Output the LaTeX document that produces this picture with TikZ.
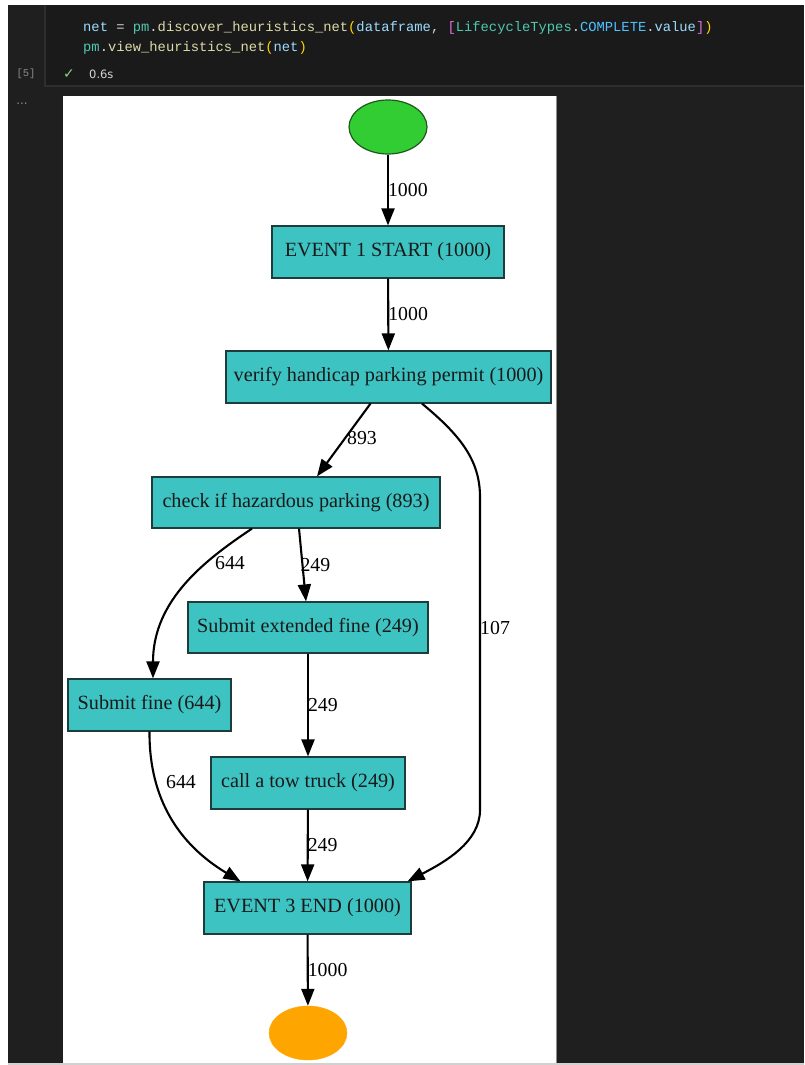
\documentclass[tikz,border=0pt]{standalone}
\usepackage{fontspec}
\setmainfont{Liberation Serif}
\newfontfamily\codefont{Liberation Mono}
\newfontfamily\uifont{DejaVu Sans}
\usetikzlibrary{shapes.geometric,arrows.meta}
\definecolor{bgdark}{HTML}{1F1F1F}
\definecolor{celldark}{HTML}{1A1A1A}
\definecolor{cellline}{HTML}{2E2E2E}
\definecolor{boxfill}{HTML}{3EC3C3}
\definecolor{boxline}{HTML}{1E3C3C}
\definecolor{srcfill}{HTML}{32CD32}
\definecolor{srcline}{HTML}{1E5A1E}
\definecolor{sinkfill}{HTML}{FFA500}
\definecolor{cvar}{HTML}{9CDCFE}
\definecolor{cop}{HTML}{D4D4D4}
\definecolor{ccls}{HTML}{4EC9B0}
\definecolor{cfn}{HTML}{DCDCAA}
\definecolor{cpar}{HTML}{FFD700}
\definecolor{cbr}{HTML}{DA70D6}
\definecolor{cconst}{HTML}{4FC1FF}
\definecolor{uigray}{HTML}{8A8A8A}
\definecolor{okgreen}{HTML}{89D185}
\tikzset{
  act/.style={rectangle, draw=boxline, line width=1.2pt, fill=boxfill, text=black!90,
    minimum height=52pt, inner sep=0pt, font=\fontsize{20.2}{23}\selectfont},
  term/.style={ellipse, minimum width=78pt, minimum height=54pt, inner sep=0pt},
  flow/.style={line width=2.1pt, -{Triangle[length=17pt,width=13pt]}},
  lbl/.style={font=\fontsize{19.8}{22}\selectfont, inner sep=0pt, text=black},
  code/.style={anchor=west, inner sep=0pt, font=\codefont\fontsize{13.8}{16}\selectfont}
}
\begin{document}
\begin{tikzpicture}[x=1pt,y=-1pt]
\useasboundingbox (0,0) rectangle (804,1065);
% screenshot background
\fill[white] (0,0) rectangle (804,1065);
\fill[bgdark] (8,5) rectangle (804,1063);
\fill[black!18] (8,1063) rectangle (804,1065);
\fill[celldark] (45,5) rectangle (804,86);
\draw[cellline, line width=1.2pt] (45,5) -- (45,86) -- (804,86);
% code
\node[code] (l1) at (83,28) {\textcolor{cvar}{net} \textcolor{cop}{=} \textcolor{ccls}{pm}\textcolor{cop}{.}\textcolor{cfn}{discover\_heuristics\_net}\textcolor{cpar}{(}\textcolor{cvar}{dataframe}\textcolor{cop}{,} \textcolor{cbr}{[}\textcolor{ccls}{LifecycleTypes}\textcolor{cop}{.}\textcolor{cconst}{COMPLETE}\textcolor{cop}{.}\textcolor{cvar}{value}\textcolor{cbr}{]}\textcolor{cpar}{)}};
\node[code] (l2) at (83,48) {\textcolor{ccls}{pm}\textcolor{cop}{.}\textcolor{cfn}{view\_heuristics\_net}\textcolor{cpar}{(}\textcolor{cvar}{net}\textcolor{cpar}{)}};
\node[anchor=center, inner sep=0pt, text=uigray, font=\codefont\fontsize{10.5}{12}\selectfont] (cnt) at (26,74) {[5]};
\node[anchor=center, inner sep=0pt, text=okgreen, font=\uifont\fontsize{14}{16}\selectfont] (ok) at (69,74) {✓};
\node[anchor=west, inner sep=0pt, text=cop, font=\uifont\fontsize{11.5}{13}\selectfont] (tm) at (89,74) {0.6s};
\node[anchor=center, inner sep=0pt, text=uigray, font=\uifont\fontsize{12}{13}\selectfont] (dots) at (22,104) {...};
% output panel
\fill[white] (63,96) rectangle (556,1063);
\draw[black!45, line width=1pt] (556,96) -- (556,1063);
% nodes
\node[term, fill=srcfill, draw=srcline, line width=1.2pt] (src) at (388,127) {};
\node[act, minimum width=232pt] (e1) at (388,252) {EVENT 1 START (1000)};
\node[act, minimum width=325pt] (ver) at (388.5,377) {verify handicap parking permit (1000)};
\node[act, minimum width=288pt, minimum height=51pt] (chk) at (296,502.5) {check if hazardous parking (893)};
\node[act, minimum width=240pt, minimum height=51pt] (ext) at (308,627.5) {Submit extended fine (249)};
\node[act, minimum width=163pt] (fine) at (149.5,705) {Submit fine (644)};
\node[act, minimum width=194pt] (tow) at (308,783) {call a tow truck (249)};
\node[act, minimum width=207pt] (fin) at (307.5,908) {EVENT 3 END (1000)};
\node[term, fill=sinkfill, draw=sinkfill] (sink) at (308,1033) {};
% edges
\draw[flow] (src) -- node[lbl, anchor=west, xshift=-1pt] {1000} (e1);
\draw[flow] (e1) -- node[lbl, anchor=west, xshift=-1pt] {1000} (ver);
\draw[flow] ([xshift=-18pt]ver.south) -- ([xshift=21pt]chk.north);
\node[lbl] (l893) at (362,438) {893};
\draw[flow] ([xshift=-44pt]chk.south) .. controls (205,560) and (153,600) .. ([xshift=3.5pt]fine.north);
\node[lbl] (l644a) at (230,563) {644};
\draw[flow] ([xshift=3pt]chk.south) -- node[lbl, anchor=west, xshift=-3pt] {249} ([xshift=-2pt]ext.north);
\draw[flow] (ext) -- node[lbl, anchor=west, xshift=-1pt] {249} (tow);
\draw[flow] (tow) -- node[lbl, anchor=west, xshift=-1pt] {249} (fin);
\draw[flow] (fine.south) .. controls (149,800) and (180,845) .. ([xshift=-67pt]fin.north);
\node[lbl] (l644b) at (181,782) {644};
\coordinate (r1) at (480,497);
\coordinate (r2) at (480,810);
\draw[flow] ([xshift=33.5pt]ver.south) .. controls (460,435) and (480,460) .. (r1) -- (r2) .. controls (480,842) and (445,862) .. ([xshift=100pt]fin.north);
\node[lbl, anchor=west] (l107) at (480,628) {107};
\draw[flow] (fin) -- node[lbl, anchor=west, xshift=-1pt] {1000} (sink);
\end{tikzpicture}
\end{document}
